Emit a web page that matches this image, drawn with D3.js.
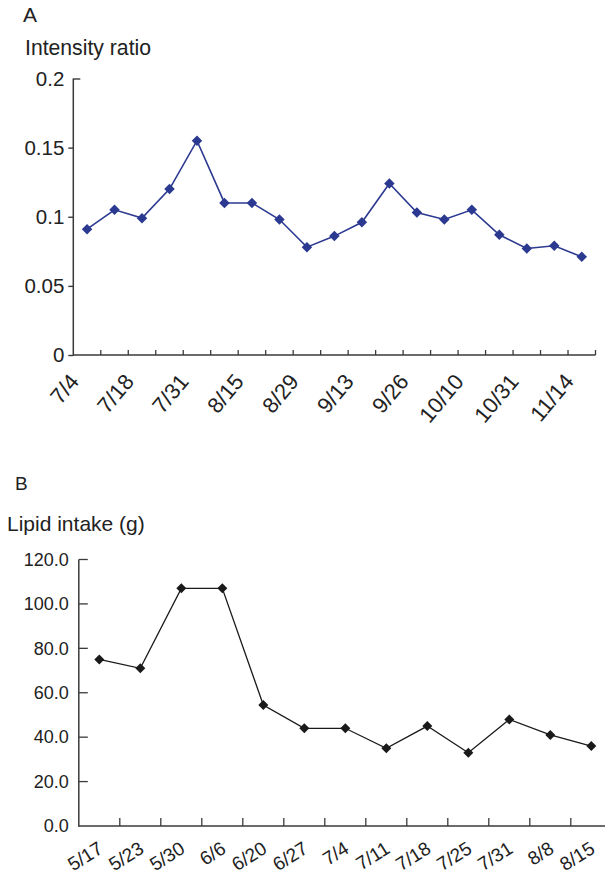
<!DOCTYPE html>
<html>
<head>
<meta charset="utf-8">
<script src="https://cdn.jsdelivr.net/npm/d3@7"></script>
<style>
html,body{margin:0;padding:0;background:#fff;}
svg{display:block;}
text{font-family:"Liberation Sans",Arial,Helvetica,sans-serif;fill:#222;}
</style>
</head>
<body>
<svg id="chart" width="605" height="877"></svg>
<script>
// ---------- Data ----------
// Panel A
const datesA = ["7/4","a2","7/18","a4","7/31","a6","8/15","a8","8/29","a10","9/13","a12","9/26","a14","10/10","a16","10/31","a18","11/14"];
const labelsA = ["7/4","","7/18","","7/31","","8/15","","8/29","","9/13","","9/26","","10/10","","10/31","","11/14"];
const ratioA = [0.091,0.105,0.099,0.120,0.155,0.110,0.110,0.098,0.078,0.086,0.096,0.124,0.103,0.098,0.105,0.087,0.077,0.079,0.071];
const ticksA = [0,0.05,0.1,0.15,0.2];
const tickLabelsA = ["0","0.05","0.1","0.15","0.2"];

// Panel B
const datesB = ["5/17","5/23","5/30","6/6","6/20","6/27","7/4","7/11","7/18","7/25","7/31","8/8","8/15"];
const lipidB = [75,71,107,107,54.5,44,44,35,45,33,48,41,36];
const ticksB = [0,20,40,60,80,100,120];
const tickLabelsB = ["0.0","20.0","40.0","60.0","80.0","100.0","120.0"];

// ---------- Drawing ----------
const svg = d3.select("#chart");
const axisColor = "#3a3a3a";
const diamond = d3.symbol().type(d3.symbolSquare);

// ===== Panel A =====
(function(){
  const x = d3.scaleBand().domain(datesA).range([73.3, 595.5]).padding(0);
  const y = d3.scaleLinear().domain([0,0.2]).range([355, 78.5]);
  const g = svg.append("g");
  const color = "#2b3990";

  g.append("text").attr("x",23).attr("y",22).attr("font-size",21).text("A");
  g.append("text").attr("x",25).attr("y",55).attr("font-size",21.2).text("Intensity ratio");

  // y axis
  const ya = g.append("g").attr("transform",`translate(${x.range()[0]},0)`)
    .call(d3.axisLeft(y).tickValues(ticksA).tickSize(5).tickPadding(4)
      .tickFormat((d,i)=>tickLabelsA[i]));
  ya.select(".domain").remove();
  ya.selectAll("line").attr("stroke",axisColor).attr("stroke-width",1.4)
    .attr("x2",(d)=> d===0.2 ? 7 : -5);
  ya.selectAll("text").attr("font-size",20.5).attr("font-family",null).attr("fill","#222");
  g.append("line").attr("x1",x.range()[0]).attr("x2",x.range()[0])
    .attr("y1",y(0.2)).attr("y2",y(0)+0.7).attr("stroke",axisColor).attr("stroke-width",1.5);

  // x axis
  g.append("line").attr("x1",x.range()[0]).attr("x2",x.range()[1])
    .attr("y1",y(0)).attr("y2",y(0)).attr("stroke",axisColor).attr("stroke-width",1.5);
  const bounds = datesA.map(d=>x(d)).concat([x.range()[1]]);
  g.selectAll(".tka").data(bounds.slice(1)).enter().append("line")
    .attr("x1",d=>d).attr("x2",d=>d).attr("y1",y(0)).attr("y2",y(0)-5)
    .attr("stroke",axisColor).attr("stroke-width",1.3);
  g.selectAll(".lba").data(datesA).enter().append("text")
    .attr("text-anchor","end").attr("font-size",22)
    .attr("transform",d=>`translate(${x(d)+x.bandwidth()/2-7},${y(0)+27}) rotate(-50)`)
    .text((d,i)=>labelsA[i]);

  // line + markers
  const line = d3.line().x((d,i)=>x(datesA[i])+x.bandwidth()/2).y(d=>y(d));
  g.append("path").datum(ratioA).attr("d",line).attr("fill","none")
    .attr("stroke",color).attr("stroke-width",1.6);
  g.selectAll(".mka").data(ratioA).enter().append("path")
    .attr("d",diamond.size(55)())
    .attr("transform",(d,i)=>`translate(${x(datesA[i])+x.bandwidth()/2},${y(d)}) rotate(45)`)
    .attr("fill",color);
})();

// ===== Panel B =====
(function(){
  const x = d3.scaleBand().domain(datesB).range([78.8, 611.8]).padding(0);
  const y = d3.scaleLinear().domain([0,120]).range([826, 559.5]);
  const g = svg.append("g");
  const color = "#1a1a1a";

  g.append("text").attr("x",15).attr("y",490).attr("font-size",19).text("B");
  g.append("text").attr("x",7).attr("y",531).attr("font-size",21).text("Lipid intake (g)");

  const ya = g.append("g").attr("transform",`translate(${x.range()[0]},0)`)
    .call(d3.axisLeft(y).tickValues(ticksB).tickSize(0).tickPadding(10)
      .tickFormat((d,i)=>tickLabelsB[i]));
  ya.select(".domain").remove();
  ya.selectAll("line").remove();
  ya.selectAll("text").attr("font-size",18).attr("font-family",null).attr("fill","#222");
  g.selectAll(".tkby").data(ticksB.slice(1)).enter().append("line")
    .attr("x1",x.range()[0]).attr("x2",x.range()[0]+9).attr("y1",d=>y(d)).attr("y2",d=>y(d))
    .attr("stroke",axisColor).attr("stroke-width",1.3);
  g.append("line").attr("x1",x.range()[0]).attr("x2",x.range()[0])
    .attr("y1",y(120)).attr("y2",y(0)+0.7).attr("stroke",axisColor).attr("stroke-width",1.5);

  g.append("line").attr("x1",x.range()[0]).attr("x2",x.range()[1])
    .attr("y1",y(0)).attr("y2",y(0)).attr("stroke",axisColor).attr("stroke-width",1.5);
  const bounds = datesB.map(d=>x(d)).concat([x.range()[1]]);
  g.selectAll(".tkb").data(bounds.slice(1)).enter().append("line")
    .attr("x1",d=>d).attr("x2",d=>d).attr("y1",y(0)).attr("y2",y(0)-8)
    .attr("stroke",axisColor).attr("stroke-width",1.3);
  g.selectAll(".lbb").data(datesB).enter().append("text")
    .attr("text-anchor","end").attr("font-size",19)
    .attr("transform",d=>`translate(${x(d)+x.bandwidth()/2+5},${y(0)+26}) rotate(-32)`)
    .text(d=>d);

  const line = d3.line().x((d,i)=>x(datesB[i])+x.bandwidth()/2).y(d=>y(d));
  g.append("path").datum(lipidB).attr("d",line).attr("fill","none")
    .attr("stroke",color).attr("stroke-width",1.3);
  g.selectAll(".mkb").data(lipidB).enter().append("path")
    .attr("d",diamond.size(50)())
    .attr("transform",(d,i)=>`translate(${x(datesB[i])+x.bandwidth()/2},${y(d)}) rotate(45)`)
    .attr("fill",color);
})();
</script>
</body>
</html>
